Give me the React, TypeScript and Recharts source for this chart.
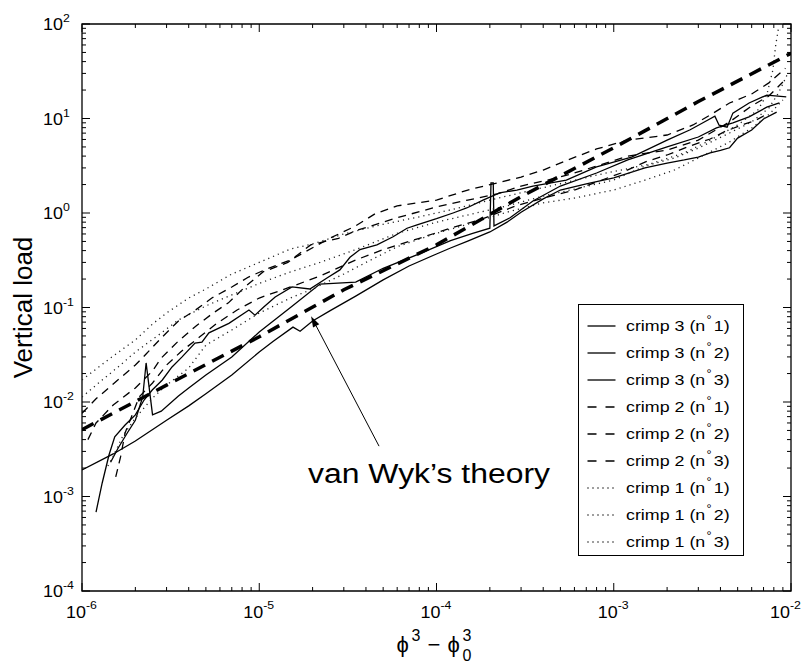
import { LineChart, Line, XAxis, YAxis, ReferenceArea, ReferenceLine, Legend, Label } from 'recharts'

type P = [number, number]

// readings: [phi^3 - phi0^3, vertical load]
const THEORY: P[] = [
  [1e-6, 5.1e-3], [3e-6, 1.51e-2], [1e-5, 4.9e-2], [3e-5, 0.154], [1e-4, 0.46],
  [3e-4, 1.49], [1e-3, 4.9], [3e-3, 15.1], [1e-2, 49],
]

const CRIMP3_N1: P[] = [
  [1e-6, 1.91e-3], [1.5e-6, 2.82e-3], [2e-6, 3.87e-3], [3e-6, 6.4e-3], [4e-6, 9.1e-3],
  [5e-6, 1.22e-2], [7e-6, 1.93e-2], [1e-5, 3.38e-2], [1.2e-5, 4.4e-2], [1.55e-5, 6.2e-2],
  [1.7e-5, 5.6e-2], [2e-5, 7.2e-2], [2.5e-5, 9.2e-2], [3.5e-5, 0.132], [5e-5, 0.196],
  [7e-5, 0.275], [1e-4, 0.368], [1.2e-4, 0.426], [1.5e-4, 0.505], [2e-4, 0.63],
  [2.5e-4, 0.8], [3e-4, 1.02], [4e-4, 1.41], [5e-4, 1.75], [7e-4, 2.03], [1e-3, 2.35],
  [1.5e-3, 3.0], [2e-3, 3.38], [2.5e-3, 3.64], [3e-3, 3.91], [3.5e-3, 4.32], [4e-3, 4.6],
  [4.5e-3, 4.9], [5e-3, 6.2], [6e-3, 7.56], [7e-3, 9.9], [8.3e-3, 11.7],
]

const CRIMP3_N2: P[] = [
  [1.45e-6, 2.3e-3], [1.6e-6, 3.26e-3], [1.8e-6, 4.7e-3], [2e-6, 6.4e-3], [2.2e-6, 1.13e-2],
  [2.3e-6, 2.59e-2], [2.5e-6, 7.3e-3], [2.8e-6, 8.0e-3], [3.5e-6, 1.16e-2], [4e-6, 1.41e-2],
  [5e-6, 1.93e-2], [7e-6, 3.0e-2], [1e-5, 5.5e-2], [1.5e-5, 0.1], [2.2e-5, 0.177],
  [3.5e-5, 0.186], [5e-5, 0.26], [8e-5, 0.37], [1.2e-4, 0.51], [1.6e-4, 0.61], [2e-4, 0.69],
  [2.03e-4, 2.08], [2.09e-4, 2.08], [2.11e-4, 0.73], [2.6e-4, 0.89], [3.5e-4, 1.34],
  [5e-4, 1.93], [8e-4, 2.65], [1.2e-3, 3.64], [2e-3, 5.0], [3e-3, 6.37], [3.8e-3, 7.94],
  [4.7e-3, 8.97], [5.8e-3, 10.4], [7.3e-3, 13.2], [8.6e-3, 14.6],
]

const CRIMP3_N3: P[] = [
  [1.2e-6, 6.85e-4], [1.3e-6, 1.39e-3], [1.42e-6, 2.75e-3], [1.53e-6, 4.27e-3], [1.75e-6, 5.7e-3],
  [2e-6, 7.3e-3], [2.24e-6, 1.05e-2], [2.49e-6, 1.34e-2], [2.84e-6, 1.71e-2], [3.22e-6, 2.35e-2],
  [3.67e-6, 3.0e-2], [4.34e-6, 4.2e-2], [4.75e-6, 4.3e-2], [5.2e-6, 5.4e-2], [6.74e-6, 6.8e-2],
  [8.75e-6, 9.4e-2], [9.46e-6, 8.3e-2], [1.06e-5, 0.101], [1.23e-5, 0.129], [1.53e-5, 0.165],
  [1.93e-5, 0.157], [2.41e-5, 0.205], [2.85e-5, 0.25], [3.25e-5, 0.34], [3.7e-5, 0.41],
  [4.61e-5, 0.46], [5.69e-5, 0.56], [6.82e-5, 0.69], [7.77e-5, 0.75], [1e-4, 0.87],
  [1.24e-4, 1.0], [1.48e-4, 1.13], [1.83e-4, 1.37], [2.27e-4, 1.63], [2.84e-4, 1.75],
  [3.5e-4, 1.93], [5.4e-4, 2.23], [8e-4, 3.07], [1.26e-3, 3.9], [2e-3, 5.9], [2.7e-3, 7.6],
  [3.32e-3, 9.4], [3.72e-3, 10.6], [3.93e-3, 8.5], [4.36e-3, 8.1], [4.7e-3, 11.4],
  [5.8e-3, 14.6], [7.3e-3, 17.7], [9.4e-3, 16.9],
]

const CRIMP2_N1: P[] = [
  [1e-6, 7.6e-3], [1.2e-6, 1.08e-2], [1.5e-6, 1.55e-2], [2e-6, 2.46e-2], [2.3e-6, 3.22e-2],
  [2.8e-6, 4.76e-2], [3.5e-6, 7.2e-2], [4.4e-6, 9.5e-2], [5.4e-6, 0.126], [7e-6, 0.165],
  [8.7e-6, 0.21], [1.1e-5, 0.255], [1.5e-5, 0.318], [2.5e-5, 0.54], [3.5e-5, 0.73],
  [4.5e-5, 0.98], [6e-5, 1.19], [1e-4, 1.37], [1.5e-4, 1.75], [2.2e-4, 2.08], [3e-4, 2.4],
  [4e-4, 2.85], [5.5e-4, 3.64], [8e-4, 4.76], [1.2e-3, 5.9], [2e-3, 6.69], [2.8e-3, 8.54],
  [3.5e-3, 10.9], [4.5e-3, 14.6], [6e-3, 18.2], [7.5e-3, 23.8], [9.3e-3, 34],
]

const CRIMP2_N2: P[] = [
  [1.08e-6, 4e-3], [1.2e-6, 6e-3], [1.5e-6, 9.3e-3], [2e-6, 1.41e-2], [2.5e-6, 2.13e-2],
  [2.8e-6, 2.92e-2], [3.5e-6, 4.42e-2], [4.4e-6, 6.37e-2], [5.5e-6, 8.75e-2], [6.7e-6, 0.112],
  [8.3e-6, 0.165], [1.05e-5, 0.238], [1.45e-5, 0.3], [1.95e-5, 0.46], [2.8e-5, 0.54],
  [3.5e-5, 0.65], [6e-5, 0.89], [1e-4, 1.16], [1.5e-4, 1.37], [2.2e-4, 1.59], [3e-4, 1.93],
  [4.5e-4, 2.29], [6e-4, 2.65], [8e-4, 3.14], [1.2e-3, 4.0], [2e-3, 4.64], [3e-3, 5.9],
  [4.5e-3, 9.2], [6e-3, 13.6], [7.5e-3, 17.3], [9e-3, 24.3],
]

const CRIMP2_N3: P[] = [
  [1.55e-6, 1.61e-3], [1.65e-6, 2.62e-3], [1.75e-6, 4.7e-3], [1.9e-6, 6.95e-3], [2.1e-6, 1.13e-2],
  [2.5e-6, 1.59e-2], [3e-6, 2.46e-2], [3.6e-6, 3.38e-2], [4.6e-6, 4.87e-2], [5.8e-6, 6.85e-2],
  [7.5e-6, 9.4e-2], [1e-5, 0.126], [1.5e-5, 0.165], [2.2e-5, 0.215], [3.5e-5, 0.318],
  [5e-5, 0.41], [8e-5, 0.54], [1.2e-4, 0.69], [1.8e-4, 0.86], [2.8e-4, 1.19], [4e-4, 1.44],
  [6e-4, 1.75], [8e-4, 2.13], [1.1e-3, 2.65], [1.5e-3, 3.46], [2e-3, 4.11], [2.6e-3, 5.0],
  [3.5e-3, 6.07], [4.3e-3, 7.38], [5.5e-3, 8.76], [6.2e-3, 9.41], [7.5e-3, 11.4],
]

const CRIMP1_N1: P[] = [
  [1e-6, 1.71e-2], [1.2e-6, 2.23e-2], [1.5e-6, 3.07e-2], [2e-6, 4.53e-2], [2.5e-6, 6.69e-2],
  [3e-6, 8.75e-2], [4e-6, 0.126], [5e-6, 0.157], [7e-6, 0.226], [1e-5, 0.3], [1.5e-5, 0.416],
  [2e-5, 0.47], [3e-5, 0.6], [5e-5, 0.76], [8e-5, 0.91], [1.2e-4, 1.08], [2e-4, 1.37],
  [3.5e-4, 1.75], [5.5e-4, 2.13], [8e-4, 2.52], [1.1e-3, 2.85], [1.6e-3, 3.3], [2.5e-3, 4.32],
  [3.5e-3, 5.9], [5e-3, 8.54], [6.5e-3, 12.3], [7.3e-3, 17.7], [7.9e-3, 32.6], [8.2e-3, 60],
  [8.5e-3, 90.6],
]

const CRIMP1_N2: P[] = [
  [1e-6, 1.13e-2], [1.3e-6, 1.71e-2], [1.6e-6, 2.35e-2], [2e-6, 3.38e-2], [2.8e-6, 5.37e-2],
  [3.5e-6, 7.38e-2], [5e-6, 0.104], [7e-6, 0.136], [1e-5, 0.18], [1.5e-5, 0.238], [2.2e-5, 0.3],
  [3.5e-5, 0.41], [6e-5, 0.61], [1e-4, 0.8], [1.6e-4, 0.98], [2.5e-4, 1.19], [4e-4, 1.51],
  [6e-4, 1.79], [1e-3, 2.23], [1.5e-3, 3.14], [2.2e-3, 3.82], [3e-3, 4.87], [4.5e-3, 7.03],
  [6e-3, 9.2], [7.5e-3, 12.9], [8.5e-3, 18.6], [9.5e-3, 28.9],
]

const CRIMP1_N3: P[] = [
  [1.4e-6, 2.1e-3], [1.5e-6, 2.68e-3], [1.7e-6, 4.37e-3], [2e-6, 6.77e-3], [2.5e-6, 1.1e-2],
  [3e-6, 1.51e-2], [4e-6, 2.29e-2], [5e-6, 4.0e-2], [7e-6, 5.78e-2], [1e-5, 8.75e-2],
  [1.5e-5, 0.126], [2e-5, 0.157], [3e-5, 0.226], [4e-5, 0.3], [6e-5, 0.44], [1e-4, 0.61],
  [1.5e-4, 0.76], [2.5e-4, 1.02], [4e-4, 1.28], [6e-4, 1.44], [1e-3, 1.75], [1.5e-3, 2.23],
  [2.2e-3, 2.85], [3e-3, 3.82], [4.5e-3, 5.65], [6e-3, 7.94], [7.5e-3, 11], [9e-3, 15.7],
]

const X_DECADES = [1e-6, 1e-5, 1e-4, 1e-3, 1e-2]
const Y_DECADES = [1e-4, 1e-3, 1e-2, 1e-1, 1e0, 1e1, 1e2]

// annotation arrow: tail then tip
const ARROW: { x: number; y: number }[] = [
  { x: 4.74e-5, y: 3.41e-3 },
  { x: 1.96e-5, y: 8.1e-2 },
]

const FONT = '"Liberation Sans", Arial, Helvetica, sans-serif'
const W = 801
const H = 666
const MARGIN = { top: 24, right: 10, bottom: 30, left: 22 }
const Y_AXIS_W = 60
const X_AXIS_H = 45
const PLOT_W = W - MARGIN.left - MARGIN.right - Y_AXIS_W
const PLOT_H = H - MARGIN.top - MARGIN.bottom - X_AXIS_H
const STRETCH = 1.12 // the source figure is a little wider than tall text would be

const SOLID = undefined
const DASHED = '8 6'
const DOTTED = '1.2 4'

const SERIES = [
  { key: 'c3n1', label: 'crimp 3', n: 1, data: CRIMP3_N1, dash: SOLID },
  { key: 'c3n2', label: 'crimp 3', n: 2, data: CRIMP3_N2, dash: SOLID },
  { key: 'c3n3', label: 'crimp 3', n: 3, data: CRIMP3_N3, dash: SOLID },
  { key: 'c2n1', label: 'crimp 2', n: 1, data: CRIMP2_N1, dash: DASHED },
  { key: 'c2n2', label: 'crimp 2', n: 2, data: CRIMP2_N2, dash: DASHED },
  { key: 'c2n3', label: 'crimp 2', n: 3, data: CRIMP2_N3, dash: DASHED },
  { key: 'c1n1', label: 'crimp 1', n: 1, data: CRIMP1_N1, dash: DOTTED },
  { key: 'c1n2', label: 'crimp 1', n: 2, data: CRIMP1_N2, dash: DOTTED },
  { key: 'c1n3', label: 'crimp 1', n: 3, data: CRIMP1_N3, dash: DOTTED },
]

const toPoints = (rows: P[]) => rows.map(([x, y]) => ({ x, y }))

const withMinors = (decades: number[]) => {
  const out: number[] = []
  decades.forEach((d, i) => {
    if (i === decades.length - 1) { out.push(d); return }
    for (let k = 1; k <= 9; k++) out.push(k * d)
  })
  return out
}
const X_TICKS = withMinors(X_DECADES)
const Y_TICKS = withMinors(Y_DECADES)

const isMajor = (v: number) => {
  const e = Math.log10(v)
  return Math.abs(e - Math.round(e)) < 1e-6
}
const expOf = (v: number) => String(Math.round(Math.log10(v)))

function PowerLabel({ x, y, exp, rise }: { x: number; y: number; exp: string; rise: number }) {
  return (
    <text
      transform={`translate(${x},${y}) scale(${STRETCH},1)`}
      fontSize={16} fontFamily={FONT} fill="#000"
    >
      10<tspan dy={-rise} fontSize={11}>{exp}</tspan>
    </text>
  )
}

function XTick(props: any) {
  const { x, y, payload } = props
  const major = isMajor(payload.value)
  const len = major ? 8 : 4
  const last = payload.value >= X_DECADES[X_DECADES.length - 1]
  return (
    <g>
      <line x1={x} y1={y} x2={x} y2={y - len} stroke="#000" strokeWidth={1} />
      <line x1={x} y1={y - PLOT_H} x2={x} y2={y - PLOT_H + len} stroke="#000" strokeWidth={1} />
      {major && (
        <PowerLabel x={x - (last ? 21 : 16)} y={y + 27} exp={expOf(payload.value)} rise={9} />
      )}
    </g>
  )
}

function YTick(props: any) {
  const { x, y, payload } = props
  const major = isMajor(payload.value)
  const len = major ? 8 : 4
  return (
    <g>
      <line x1={x} y1={y} x2={x + len} y2={y} stroke="#000" strokeWidth={1} />
      <line x1={x + PLOT_W} y1={y} x2={x + PLOT_W - len} y2={y} stroke="#000" strokeWidth={1} />
      {major && <PowerLabel x={x - 39} y={y + 6} exp={expOf(payload.value)} rise={8} />}
    </g>
  )
}

function XLabel(props: any) {
  const vb = props.viewBox
  const cx = vb.x + vb.width / 2
  const base = vb.y + 61
  return (
    <text y={base} fontSize={22} fontFamily={FONT} fill="#000">
      <tspan x={cx - 40}>ϕ</tspan>
      <tspan x={cx - 25} dy={-11} fontSize={16}>3</tspan>
      <tspan x={cx - 9} dy={11}>−</tspan>
      <tspan x={cx + 11}>ϕ</tspan>
      <tspan x={cx + 26} dy={-11} fontSize={16}>3</tspan>
      <tspan x={cx + 26} dy={20} fontSize={16}>0</tspan>
    </text>
  )
}

function YLabel(props: any) {
  const vb = props.viewBox
  const cx = vb.x + 10
  const cy = vb.y + vb.height / 2
  return (
    <text
      x={cx} y={cy} textAnchor="middle" fontSize={26} fontFamily={FONT} fill="#000"
      transform={`rotate(-90 ${cx} ${cy})`}
    >
      Vertical load
    </text>
  )
}

function ArrowNote(props: any) {
  const { x1, y1, x2, y2 } = props
  const a = Math.atan2(y2 - y1, x2 - x1)
  const len = 11
  const half = 3.5
  const bx = x2 - len * Math.cos(a)
  const by = y2 - len * Math.sin(a)
  const pts = [
    `${x2},${y2}`,
    `${bx + half * Math.sin(a)},${by - half * Math.cos(a)}`,
    `${bx - half * Math.sin(a)},${by + half * Math.cos(a)}`,
  ].join(' ')
  return (
    <g>
      <line x1={x1} y1={y1} x2={bx} y2={by} stroke="#000" strokeWidth={1} />
      <polygon points={pts} fill="#000" />
      <text
        x={x1 - 71} y={y1 + 37} fontSize={27} fontFamily={FONT} fill="#000"
        textLength={242} lengthAdjust="spacingAndGlyphs"
      >
        van Wyk’s theory
      </text>
    </g>
  )
}

function LegendBox() {
  return (
    <div
      style={{
        width: 166, height: 252, boxSizing: 'border-box', border: '1.5px solid #000',
        background: '#fff', paddingTop: 7, fontFamily: FONT, fontSize: 15.5, color: '#000',
      }}
    >
      {SERIES.map(s => (
        <div key={s.key} style={{ height: 27, display: 'flex', alignItems: 'center' }}>
          <svg width={47} height={10} style={{ display: 'block', flex: 'none' }}>
            <line
              x1={8.5} y1={5} x2={36.5} y2={5} stroke="#000" strokeWidth={1.3}
              strokeDasharray={s.dash === DASHED ? '9 9' : s.dash === DOTTED ? '1 4' : undefined}
            />
          </svg>
          <span
            style={{
              whiteSpace: 'nowrap', display: 'inline-block',
              transform: 'scaleX(1.15)', transformOrigin: 'left center',
            }}
          >
            {s.label} (n
            <span style={{ fontSize: 11, color: '#000', position: 'relative', top: -8, margin: '0 2px 0 1px' }}>°</span>
            {s.n})
          </span>
        </div>
      ))}
    </div>
  )
}

export default function App() {
  return (
    <div style={{ position: 'absolute', left: 0, top: 0, width: W, height: H, background: '#fff' }}>
      <LineChart width={W} height={H} margin={MARGIN}>
        <XAxis
          dataKey="x" type="number" scale="log" domain={[1e-6, 1e-2]} allowDataOverflow
          ticks={X_TICKS} interval={0} tick={XTick} tickLine={false} axisLine={false}
          tickSize={0} tickMargin={0} height={X_AXIS_H}
        >
          <Label content={XLabel} />
        </XAxis>
        <YAxis
          dataKey="y" type="number" scale="log" domain={[1e-4, 100]} allowDataOverflow
          ticks={Y_TICKS} interval={0} tick={YTick} tickLine={false} axisLine={false}
          tickSize={0} tickMargin={0} width={Y_AXIS_W}
        >
          <Label content={YLabel} />
        </YAxis>
        <ReferenceArea
          x1={1e-6} x2={1e-2} y1={1e-4} y2={100} fill="none" fillOpacity={0}
          stroke="#000" strokeWidth={1.3}
        />
        {SERIES.map(s => (
          <Line
            key={s.key} data={toPoints(s.data)} dataKey="y" type="linear"
            stroke={s.dash === DOTTED ? '#222' : '#000'} strokeWidth={1.3}
            strokeDasharray={s.dash} dot={false} activeDot={false} isAnimationActive={false}
          />
        ))}
        <Line
          data={toPoints(THEORY)} dataKey="y" type="linear" stroke="#000" strokeWidth={3.5}
          strokeDasharray="13 8" dot={false} activeDot={false} isAnimationActive={false}
          legendType="none"
        />
        <ReferenceLine segment={ARROW} shape={ArrowNote} />
        <Legend
          layout="vertical" align="center" verticalAlign="middle" content={LegendBox}
          wrapperStyle={{ left: 578, top: 304, width: 166, height: 252 }}
        />
      </LineChart>
    </div>
  )
}
